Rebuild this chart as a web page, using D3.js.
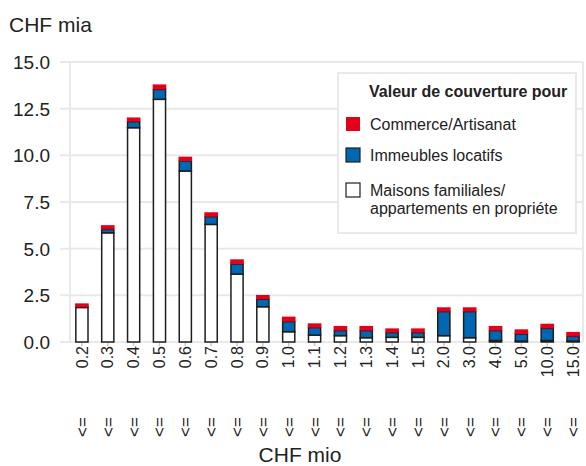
<!DOCTYPE html>
<html>
<head>
<meta charset="utf-8">
<script src="https://cdn.jsdelivr.net/npm/d3@7"></script>
<style>
  body { margin: 0; background: #fff; }
  text { font-family: "Liberation Sans", Arial, sans-serif; fill: #222; }
</style>
</head>
<body>
<svg id="chart" width="586" height="466"></svg>
<script>
// values (CHF mia)
var categories = ["0.2", "0.3", "0.4", "0.5", "0.6", "0.7", "0.8", "0.9", "1.0", "1.1",
                  "1.2", "1.3", "1.4", "1.5", "2.0", "3.0", "4.0", "5.0", "10.0", "15.0"];
var maisons   = [1.85, 5.85, 11.48, 13.0, 9.16, 6.30, 3.64, 1.89, 0.55, 0.37,
                 0.34, 0.23, 0.25, 0.25, 0.34, 0.23, 0.08, 0.05, 0.08, 0.05];
var immeubles = [0.02, 0.18, 0.32, 0.53, 0.54, 0.41, 0.54, 0.40, 0.54, 0.40,
                 0.27, 0.38, 0.25, 0.25, 1.29, 1.40, 0.53, 0.38, 0.65, 0.25];
var commerce  = [0.20, 0.23, 0.23, 0.27, 0.23, 0.24, 0.25, 0.23, 0.27, 0.23,
                 0.25, 0.25, 0.23, 0.23, 0.23, 0.23, 0.25, 0.25, 0.25, 0.24];
var yTicks = [0, 2.5, 5, 7.5, 10, 12.5, 15];

var keys = ["maisons", "immeubles", "commerce"];
var colors = { maisons: "#ffffff", immeubles: "#0068b3", commerce: "#e3001b" };

var rows = categories.map(function (c, i) {
    return { cat: c, maisons: maisons[i], immeubles: immeubles[i], commerce: commerce[i] };
});
var series = d3.stack().keys(keys)(rows);

var svg = d3.select("#chart");
var grid = "#e9e9e9";

var x = d3.scaleBand()
    .domain(categories)
    .range([69, 586])
    .paddingInner(0.53)
    .paddingOuter(0.265);

var y = d3.scaleLinear()
    .domain([0, 15])
    .range([342, 62]);

// gridlines
svg.append("g").selectAll("line")
    .data(yTicks)
    .enter().append("line")
    .attr("x1", 60).attr("x2", 583)
    .attr("y1", d => y(d)).attr("y2", d => y(d))
    .attr("stroke", grid).attr("stroke-width", 2);

// frame sides
svg.append("line").attr("x1", 70).attr("x2", 70).attr("y1", y(15)).attr("y2", y(0))
    .attr("stroke", grid).attr("stroke-width", 2);
svg.append("line").attr("x1", 583).attr("x2", 583).attr("y1", y(15)).attr("y2", y(0))
    .attr("stroke", grid).attr("stroke-width", 2);

// y labels
svg.append("g").selectAll("text")
    .data(yTicks)
    .enter().append("text")
    .attr("x", 50).attr("y", d => y(d))
    .attr("dy", "0.36em")
    .attr("text-anchor", "end")
    .style("font-size", "19px")
    .text(d => d3.format(".1f")(d));

svg.append("text").attr("x", 9).attr("y", 32).style("font-size", "21px").text("CHF mia");

// x tick marks
var xAxis = svg.append("g")
    .attr("transform", `translate(0,${y(0) + 1})`)
    .call(d3.axisBottom(x).tickSize(3).tickFormat(""));
xAxis.select(".domain").remove();
xAxis.selectAll(".tick line").attr("stroke", "#c8c8c8").attr("stroke-width", 1.5);

// bars
var sw = 1.5;
var layers = svg.append("g").selectAll("g")
    .data(series)
    .enter().append("g");

layers.selectAll("rect")
    .data(d => d.map(v => Object.assign(v, { key: d.key })))
    .enter().append("rect")
    .attr("x", d => d.key === "commerce" ? x(d.data.cat) - sw / 2 : x(d.data.cat))
    .attr("width", d => d.key === "commerce" ? x.bandwidth() + sw : x.bandwidth())
    .attr("y", d => y(d[1]))
    .attr("height", d => y(d[0]) - y(d[1]))
    .attr("fill", d => colors[d.key])
    .attr("stroke", d => d.key === "commerce" ? "none" : "#1e1e1e")
    .attr("stroke-width", sw);

// x labels
var labels = svg.append("g").selectAll("g")
    .data(categories)
    .enter().append("g")
    .attr("transform", d => `translate(${x(d) + x.bandwidth() / 2},0)`);

labels.append("text")
    .attr("transform", "translate(0,346) rotate(-90)")
    .attr("dy", "0.35em")
    .attr("text-anchor", "end")
    .style("font-size", "16px")
    .text(d => d);

labels.append("text")
    .attr("transform", "translate(0,427) rotate(-90)")
    .attr("dy", "0.35em")
    .attr("text-anchor", "middle")
    .style("font-size", "17px")
    .text("<=");

svg.append("text").attr("x", 300).attr("y", 462).attr("text-anchor", "middle")
    .style("font-size", "21px").text("CHF mio");

// legend
var lg = svg.append("g");
lg.append("rect").attr("x", 338).attr("y", 73).attr("width", 238).attr("height", 160)
    .attr("fill", "#fff").attr("stroke", grid).attr("stroke-width", 2);
lg.append("text").attr("x", 369).attr("y", 97).style("font-size", "16px")
    .style("font-weight", "bold").text("Valeur de couverture pour");

var legendItems = [
    { key: "commerce", lines: ["Commerce/Artisanat"], y: 117 },
    { key: "immeubles", lines: ["Immeubles locatifs"], y: 148 },
    { key: "maisons", lines: ["Maisons familiales/", "appartements en propriéte"], y: 183 }
];
legendItems.forEach(function (it) {
    lg.append("rect").attr("x", 346).attr("y", it.y).attr("width", 14).attr("height", 14)
        .attr("fill", colors[it.key])
        .attr("stroke", it.key === "commerce" ? "none" : "#1e1e1e")
        .attr("stroke-width", 1.2);
    it.lines.forEach(function (t, j) {
        lg.append("text").attr("x", 370).attr("y", it.y + 13 + j * 18)
            .style("font-size", "16px").text(t);
    });
});
</script>
</body>
</html>
